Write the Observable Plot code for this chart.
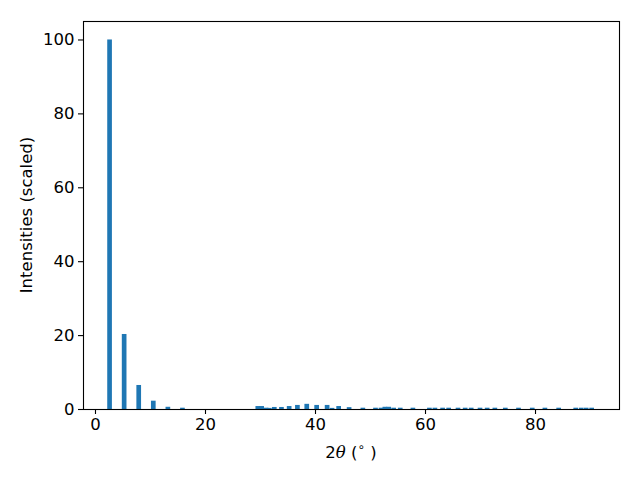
<!DOCTYPE html>
<html><head>
<meta charset="utf-8">
<script src="https://cdn.jsdelivr.net/npm/d3@7"></script>
<script src="https://cdn.jsdelivr.net/npm/@observablehq/plot@0.6"></script>
<style>body{margin:0;background:#fff}</style>
</head><body><div id="chart"></div>
<script>
const twoTheta = [2.65, 5.3, 7.95, 10.6, 13.25, 15.9, 29.6, 30.3, 31.1, 31.7, 32.6, 33.9, 35.3, 36.8, 38.5, 40.3, 42.2, 43.1, 44.3, 46.2, 48.7, 51.0, 52.0, 52.7, 53.4, 54.3, 55.5, 57.8, 60.8, 61.8, 63.2, 64.3, 66.0, 67.3, 68.4, 70.0, 71.3, 72.7, 74.6, 77.0, 79.5, 81.8, 84.3, 87.4, 88.4, 89.3, 90.3];
const intensity = [100, 20.3, 6.5, 2.25, 0.6, 0.35, 0.8, 0.8, 0.35, 0.3, 0.55, 0.55, 0.8, 1.1, 1.4, 1.1, 1.1, 0.3, 0.8, 0.5, 0.35, 0.35, 0.35, 0.6, 0.6, 0.35, 0.35, 0.35, 0.35, 0.35, 0.35, 0.35, 0.35, 0.35, 0.35, 0.35, 0.35, 0.35, 0.35, 0.35, 0.35, 0.35, 0.35, 0.35, 0.35, 0.35, 0.35];
const xTicks = [0, 20, 40, 60, 80];
const yTicks = [0, 20, 40, 60, 80, 100];
const barWidth = 0.85;
const data = twoTheta.map((t, i) => ({x1: t - barWidth / 2, x2: t + barWidth / 2, y: intensity[i]}));
const FS = 16.5;

const chart = Plot.plot({
  width: 640, height: 480,
  marginLeft: 83, marginRight: 21, marginTop: 21, marginBottom: 71,
  style: {fontFamily: "DejaVu Sans", fontSize: FS + "px", color: "black", background: "white"},
  x: {domain: [-2.18, 95.27], ticks: xTicks, tickSize: 5, tickPadding: 4, label: null},
  y: {domain: [0, 105], ticks: yTicks, tickSize: 5, tickPadding: 4, label: null},
  marks: [
    Plot.rectY(data, {x1: "x1", x2: "x2", y: "y", fill: "#1f77b4"}),
    Plot.frame({stroke: "black", strokeWidth: 1.1})
  ]
});
document.getElementById("chart").appendChild(chart);

const svg = d3.select(chart);
svg.selectAll("g[aria-label='x-axis tick label'], g[aria-label='y-axis tick label']")
  .attr("font-size", FS).style("font-size", FS + "px").attr("font-family", "DejaVu Sans");
svg.selectAll("g[aria-label='x-axis tick'], g[aria-label='y-axis tick']").attr("stroke-width", 1.1);

const xl = svg.append("text")
  .attr("x", (83 + 619) / 2).attr("y", 458)
  .attr("text-anchor", "middle")
  .attr("font-family", "DejaVu Sans").style("font-size", FS + "px").attr("fill", "black");
xl.append("tspan").text("2");
xl.append("tspan").attr("font-family", "DejaVu Serif").attr("font-style", "italic").text("θ");
xl.append("tspan").text(" (");
xl.append("tspan").style("font-size", "12px").attr("dy", -7).text("∘");
xl.append("tspan").attr("dy", 7).text(" )");

svg.append("text")
  .attr("transform", `translate(32,${(21 + 409) / 2}) rotate(-90)`)
  .attr("text-anchor", "middle")
  .attr("font-family", "DejaVu Sans").style("font-size", FS + "px").attr("fill", "black")
  .text("Intensities (scaled)");
</script>
</body></html>
